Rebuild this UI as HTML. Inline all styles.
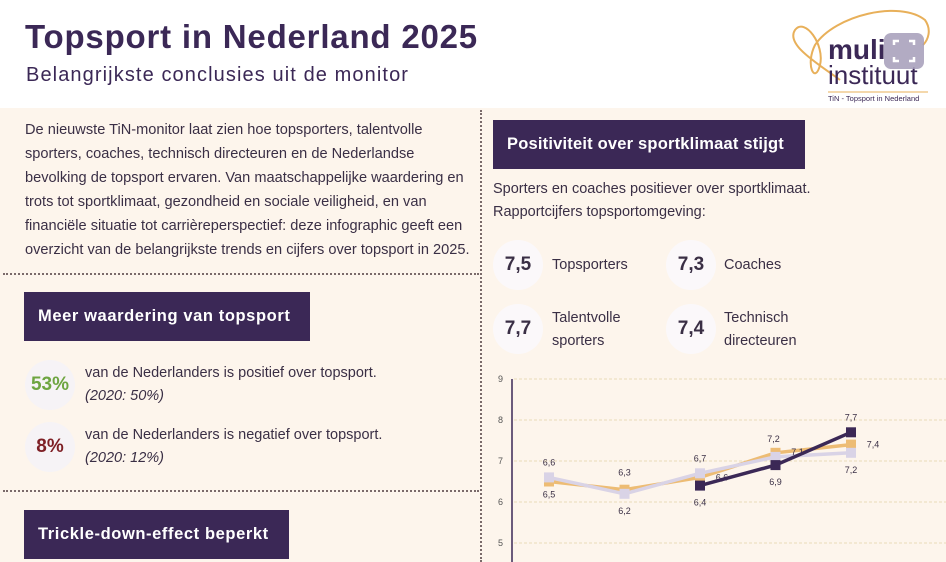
<!DOCTYPE html>
<html><head><meta charset="utf-8"><style>
*{margin:0;padding:0;box-sizing:border-box}
body{width:946px;height:562px;overflow:hidden;background:#fdf5ec;font-family:"Liberation Sans",sans-serif;color:#3a2f45;position:relative}
.abs{position:absolute}
.hdr{left:0;top:0;width:946px;height:108px;background:#fff}
.title{left:25px;top:18px;font-size:33px;font-weight:bold;color:#3b2856;white-space:nowrap;letter-spacing:0.8px}
.sub{left:26px;top:64px;font-size:20px;color:#3b2856;white-space:nowrap;letter-spacing:1.1px}
.box{background:#3b2856;color:#fff;font-weight:bold;font-size:16.5px;padding-left:14px;display:flex;align-items:center;letter-spacing:0.6px;white-space:nowrap}
.p{font-size:14.6px;line-height:24px;color:#3a2f45;white-space:nowrap}
.circ{width:50px;height:50px;border-radius:50%;background:#f6f3f6;display:flex;align-items:center;justify-content:center;font-weight:bold}
.txt{font-size:14.5px;line-height:23px}
</style></head><body>
<div class="abs hdr"></div>
<div class="abs title">Topsport in Nederland 2025</div>
<div class="abs sub">Belangrijkste conclusies uit de monitor</div>
<svg class="abs" style="left:780px;top:5px" width="160" height="100">
<path d="M60 75 C 40 60 5 40 15 25 C 25 12 45 40 40 60 C 35 80 25 60 35 40 C 55 10 120 -5 145 15 C 152 25 148 35 143 40" fill="none" stroke="#e8b05a" stroke-width="2"/>
<text x="48" y="54" font-size="28" font-weight="bold" fill="#3b2856" font-family="Liberation Sans">muli</text>
<text x="48" y="79" font-size="26" fill="#3b2856" font-family="Liberation Sans">instituut</text>
<line x1="48" y1="87" x2="148" y2="87" stroke="#e8b05a"/>
<text x="48" y="96" font-size="7.5" fill="#3b2856" font-family="Liberation Sans">TiN - Topsport in Nederland</text>
<rect x="104" y="28" width="40" height="36" rx="7" fill="#a59cb8" opacity="0.85"/>
<path d="M114 40v-4h5M134 40v-4h-5M114 52v4h5M134 52v4h-5" stroke="#fff" stroke-width="2.5" fill="none"/>
</svg>
<div class="abs p" style="left:25px;top:118px">De nieuwste TiN-monitor laat zien hoe topsporters, talentvolle<br>sporters, coaches, technisch directeuren en de Nederlandse<br>bevolking de topsport ervaren. Van maatschappelijke waardering en<br>trots tot sportklimaat, gezondheid en sociale veiligheid, en van<br>financiële situatie tot carrièreperspectief: deze infographic geeft een<br>overzicht van de belangrijkste trends en cijfers over topsport in 2025.</div>
<div class="abs" style="left:3px;top:273px;width:476px;border-top:2px dotted #7a6a6a"></div>
<div class="abs" style="left:3px;top:490px;width:476px;border-top:2px dotted #7a6a6a"></div>
<div class="abs" style="left:480px;top:110px;height:452px;border-left:2px dotted #7a6a6a"></div>
<div class="abs box" style="left:24px;top:292px;width:286px;height:49px">Meer waardering van topsport</div>
<div class="abs circ" style="left:25px;top:360px;color:#6ea541;font-size:19px">53%</div>
<div class="abs txt" style="left:85px;top:362px">van de Nederlanders is positief over topsport.<br><i>(2020: 50%)</i></div>
<div class="abs circ" style="left:25px;top:422px;color:#7e1f25;font-size:19px">8%</div>
<div class="abs txt" style="left:85px;top:424px">van de Nederlanders is negatief over topsport.<br><i>(2020: 12%)</i></div>
<div class="abs box" style="left:24px;top:510px;width:265px;height:49px">Trickle-down-effect beperkt</div>
<div class="abs box" style="left:493px;top:120px;width:312px;height:49px;letter-spacing:0.2px">Positiviteit over sportklimaat stijgt</div>
<div class="abs txt" style="left:493px;top:178px">Sporters en coaches positiever over sportklimaat.<br>Rapportcijfers topsportomgeving:</div>
<div class="abs circ" style="left:493px;top:240px;font-size:19px;background:#fbf8fa">7,5</div>
<div class="abs txt" style="left:552px;top:254px">Topsporters</div>
<div class="abs circ" style="left:666px;top:240px;font-size:19px;background:#fbf8fa">7,3</div>
<div class="abs txt" style="left:724px;top:254px">Coaches</div>
<div class="abs circ" style="left:493px;top:304px;font-size:19px;background:#fbf8fa">7,7</div>
<div class="abs txt" style="left:552px;top:307px">Talentvolle<br>sporters</div>
<div class="abs circ" style="left:666px;top:304px;font-size:19px;background:#fbf8fa">7,4</div>
<div class="abs txt" style="left:724px;top:307px">Technisch<br>directeuren</div>
<svg id="chart" class="abs" style="left:490px;top:370px" width="456" height="192"></svg>
<script>
const categories=["2017","2019","2021","2023","2025"];
const yTicks=[5,6,7,8,9];
const seriesOrange=[6.5,6.3,6.6,7.2,7.4];
const seriesLight=[6.6,6.2,6.7,7.1,7.2];
const seriesDark=[null,null,6.4,6.9,7.7];
const svg=document.getElementById('chart');
const NS='http://www.w3.org/2000/svg';
const y=v=>9+(9-v)*41;
const x=i=>59+i*75.5;
function mk(t,a){const e=document.createElementNS(NS,t);for(const k in a)e.setAttribute(k,a[k]);svg.appendChild(e);return e;}
yTicks.forEach(t=>{
 const g=mk('line',{x1:24,x2:456,y1:y(t),y2:y(t),stroke:'#e9dcb8','stroke-dasharray':'3 2'});
 
 
 const l=mk('text',{x:8,y:y(t)+3,'font-size':9,fill:'#555','font-family':'Liberation Sans'});l.textContent=t;
 
 
});
const ax=mk('line',{x1:22,x2:22,y1:9,y2:192,stroke:'#3b2856','stroke-width':1.5});


function series(vals,color,name,labelPos){
 const pts=vals.map((v,i)=>v==null?null:[x(i),y(v)]).filter(p=>p);
 const pl=mk('polyline',{points:pts.map(p=>p.join(',')).join(' '),fill:'none',stroke:color,'stroke-width':3.5});
 
 
 vals.forEach((v,i)=>{if(v==null)return;
  const r=mk('rect',{x:x(i)-5,y:y(v)-5,width:10,height:10,fill:color});
  
  
  const dy=labelPos[i];
  const t=mk('text',{x:x(i)+(dy[0]||0),y:y(v)+dy[1],'font-size':9,fill:'#3a2f45','text-anchor':'middle','font-family':'Liberation Sans'});
  t.textContent=String(v).replace('.',',');
  
  
 });
}
series(seriesOrange,'#edbc74','orange-series',[[0,16],[0,-14],[22,3],[-2,-11],[22,3]]);
series(seriesLight,'#d9d3e6','light-series',[[0,-12],[0,20],[0,-12],[22,-2],[0,20]]);
series(seriesDark,'#3b2856','dark-series',[[0,0],[0,0],[0,20],[0,20],[0,-12]]);
</script>
</body></html>
